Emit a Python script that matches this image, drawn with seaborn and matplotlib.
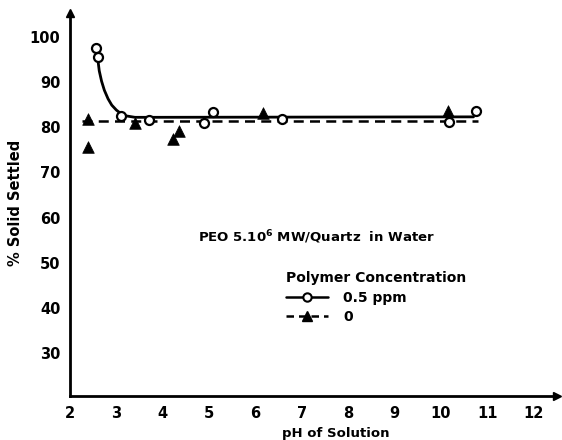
import matplotlib
matplotlib.use("Agg")
import matplotlib.pyplot as plt
from matplotlib.lines import Line2D
import seaborn as sns
import pandas as pd

# Measured settling, 0.5 ppm PEO
ph_05 = [2.57, 2.60, 3.10, 3.71, 4.89, 5.09, 6.56, 10.18, 10.75]
settled_05 = [97.5, 95.5, 82.5, 81.6, 80.9, 83.3, 81.8, 81.2, 83.6]

# Measured settling, no polymer
ph_0 = [2.39, 2.39, 3.40, 4.21, 4.36, 6.17, 10.15]
settled_0 = [81.8, 75.7, 80.9, 77.5, 79.2, 83.1, 83.7]

# Hand-drawn trend curve through the 0.5 ppm data
curve_ph = [2.60, 2.63, 2.68, 2.74, 2.82, 2.90, 3.00, 3.10, 3.22, 3.40, 3.70, 10.70]
curve_05 = [95.0, 92.5, 90.2, 88.2, 86.3, 84.9, 83.8, 83.0, 82.5, 82.2, 82.2, 82.3]

# Mean level without polymer
level_ph = [2.25, 10.80]
level_0 = [81.3, 81.3]

x_ticks = [2, 3, 4, 5, 6, 7, 8, 9, 10, 11, 12]
y_ticks = [30, 40, 50, 60, 70, 80, 90, 100]

sns.set_style("white")
plt.rcParams["font.family"] = ["DejaVu Sans"]
plt.rcParams["font.weight"] = "bold"
plt.rcParams["text.color"] = "black"
plt.rcParams["axes.labelcolor"] = "black"
plt.rcParams["xtick.color"] = "black"
plt.rcParams["ytick.color"] = "black"

fig = plt.figure(figsize=(5.62, 4.40), dpi=100)
ax = fig.add_axes([0.1246, 0.1, 0.8665, 0.8705])

df05 = pd.DataFrame({"pH": ph_05, "settled": settled_05})
df0 = pd.DataFrame({"pH": ph_0, "settled": settled_0})
dfc = pd.DataFrame({"pH": curve_ph, "settled": curve_05})
dfl = pd.DataFrame({"pH": level_ph, "settled": level_0})

sns.lineplot(data=dfc, x="pH", y="settled", ax=ax, color="black", lw=2.0,
             sort=False, estimator=None)
sns.lineplot(data=dfl, x="pH", y="settled", ax=ax, color="black", lw=1.8,
             estimator=None)
ax.lines[-1].set_linestyle((0, (4, 2.5)))
sns.scatterplot(data=df05, x="pH", y="settled", ax=ax, marker="o", s=42,
                facecolor="white", edgecolor="black", linewidth=1.6, zorder=4)
sns.scatterplot(data=df0, x="pH", y="settled", ax=ax, marker="^", s=70,
                color="black", edgecolor="black", linewidth=0.5, zorder=4)

ax.set_xlim(2, 12.5)
ax.set_ylim(20.5, 105.3)
ax.set_xticks(x_ticks)
ax.set_yticks(y_ticks)
ax.tick_params(direction="in", length=6, width=1.8, labelsize=10.5, pad=7,
               color="black", labelcolor="black")
for lab in ax.get_xticklabels() + ax.get_yticklabels():
    lab.set_fontweight("bold")

for side in ("top", "right"):
    ax.spines[side].set_visible(False)
for side in ("left", "bottom"):
    ax.spines[side].set_linewidth(2.0)
    ax.spines[side].set_color("black")

# Arrow heads on the axes
ax.plot(1, 0, ">", color="black", ms=6, transform=ax.transAxes, clip_on=False)
ax.plot(0, 1, "^", color="black", ms=6, transform=ax.transAxes, clip_on=False)

ax.set_xlabel("")
ax.set_ylabel("")
fig.text(336 / 562, 1 - 433 / 440, "pH of Solution", fontsize=9.5,
         fontweight="bold", ha="center", va="center")
fig.text(16 / 562, 1 - 203 / 440, "% Solid Settled", fontsize=10.5,
         fontweight="bold", ha="center", va="center", rotation=90)

ax.text(198, 440 - 237, "PEO 5.10$^{\\mathbf{6}}$ MW/Quartz  in Water",
        transform=None, fontsize=9.5, fontweight="bold", va="center")

handles = [
    Line2D([], [], color="black", lw=1.8, marker="o", ms=6,
           markerfacecolor="white", markeredgewidth=1.5),
    Line2D([], [], color="black", lw=1.8, ls=(0, (3, 2)), marker="^", ms=7),
]
leg = ax.legend(handles, ["0.5 ppm", "0"], title="Polymer Concentration",
                frameon=False, loc="upper left",
                bbox_to_anchor=(279 / 562, 1 - 264 / 440),
                bbox_transform=fig.transFigure, fontsize=10,
                title_fontproperties={"weight": "bold", "size": 10},
                handlelength=3.0, handletextpad=1.1, labelspacing=0.4,
                borderpad=0)
leg._legend_box.align = "left"
for t in leg.get_texts():
    t.set_fontweight("bold")

fig.savefig("out.png", dpi=100)
